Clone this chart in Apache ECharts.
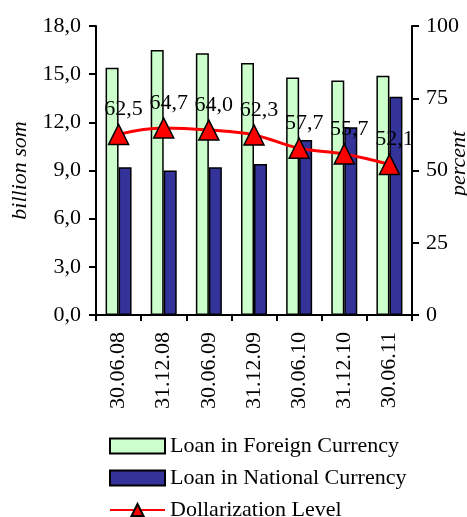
<!DOCTYPE html>
<html>
<head>
<meta charset="utf-8">
<script src="https://cdn.jsdelivr.net/npm/echarts@6/dist/echarts.min.js"></script>
<style>
  html, body { margin: 0; padding: 0; background: #fff; }
  #main { width: 467px; height: 517px; }
</style>
</head>
<body>
<div id="main"></div>
<script>
// data
const dates = ['30.06.08', '31.12.08', '30.06.09', '31.12.09', '30.06.10', '31.12.10', '30.06.11'];
const foreignLoans = [15.4, 16.5, 16.3, 15.7, 14.8, 14.6, 14.9];
const nationalLoans = [9.2, 9.0, 9.2, 9.4, 10.9, 11.7, 13.6];
const dollarization = [62.5, 64.7, 64.0, 62.3, 57.7, 55.7, 52.1];

const font = 'Liberation Serif';
const fs = 22;
const comma = (v, d) => v.toFixed(d).replace('.', ',');

const chart = echarts.init(document.getElementById('main'));

const option = {
  backgroundColor: '#fff',
  animation: false,
  textStyle: { fontFamily: font, color: '#000' },
  grid: { left: 96, right: 55, top: 26, bottom: 202, containLabel: false, outerBoundsMode: 'none' },
  legend: {
    orient: 'vertical',
    left: 104,
    top: 430,
    height: 120,
    itemWidth: 55,
    itemHeight: 15,
    itemGap: 10,
    textStyle: { fontFamily: font, fontSize: fs, color: '#000', lineHeight: 17 },
    data: [
      { name: 'Loan in Foreign Currency', icon: 'rect' },
      { name: 'Loan in National Currency', icon: 'rect' },
      { name: 'Dollarization Level' },
    ],
  },
  xAxis: {
    type: 'category',
    data: dates,
    axisLine: { lineStyle: { color: '#000', width: 2 } },
    axisTick: { show: true, inside: false, length: 6, lineStyle: { color: '#000', width: 2 } },
    axisLabel: { rotate: 90, fontSize: fs, color: '#000', fontFamily: font, margin: 17 },
  },
  yAxis: [
    {
      type: 'value',
      min: 0,
      max: 18,
      interval: 3,
      name: 'billion som',
      nameLocation: 'middle',
      nameGap: 64,
      nameTextStyle: { fontStyle: 'italic', fontSize: fs, fontFamily: font, color: '#000' },
      axisLine: { show: true, lineStyle: { color: '#000', width: 2 } },
      axisTick: { show: true, length: 7, lineStyle: { color: '#000', width: 2 } },
      axisLabel: { fontSize: fs, color: '#000', fontFamily: font, margin: 15, formatter: v => comma(v, 1) },
      splitLine: { show: false },
    },
    {
      type: 'value',
      min: 0,
      max: 100,
      interval: 25,
      name: 'percent',
      nameLocation: 'middle',
      nameGap: 36,
      nameRotate: 90,
      nameMoveOverlap: false,
      nameTextStyle: { fontStyle: 'italic', fontSize: fs, fontFamily: font, color: '#000', padding: [0, 0, 0, 14] },
      axisLine: { show: true, lineStyle: { color: '#000', width: 2 } },
      axisTick: { show: true, length: 7, lineStyle: { color: '#000', width: 2 } },
      axisLabel: { fontSize: fs, color: '#000', fontFamily: font, margin: 14 },
      splitLine: { show: false },
    },
  ],
  series: [
    {
      name: 'Loan in Foreign Currency',
      type: 'bar',
      data: foreignLoans,
      barWidth: 13,
      barGap: '0%',
      itemStyle: { color: '#ccffcc', borderColor: '#000', borderWidth: 1.5 },
    },
    {
      name: 'Loan in National Currency',
      type: 'bar',
      data: nationalLoans,
      barWidth: 13,
      barGap: '0%',
      itemStyle: { color: '#333399', borderColor: '#000', borderWidth: 1.5 },
    },
    {
      name: 'Dollarization Level',
      type: 'line',
      yAxisIndex: 1,
      data: dollarization,
      smooth: 0.4,
      symbol: 'triangle',
      symbolSize: 20,
      z: 5,
      lineStyle: { color: '#ff0000', width: 3 },
      itemStyle: { color: '#ff0000', borderColor: '#000', borderWidth: 1.5 },
      label: {
        show: true,
        position: 'top',
        distance: 3,
        offset: [5, 0],
        fontSize: fs,
        fontFamily: font,
        color: '#000',
        formatter: p => comma(p.value, 1),
      },
    },
  ],
};

chart.setOption(option);
</script>
</body>
</html>
